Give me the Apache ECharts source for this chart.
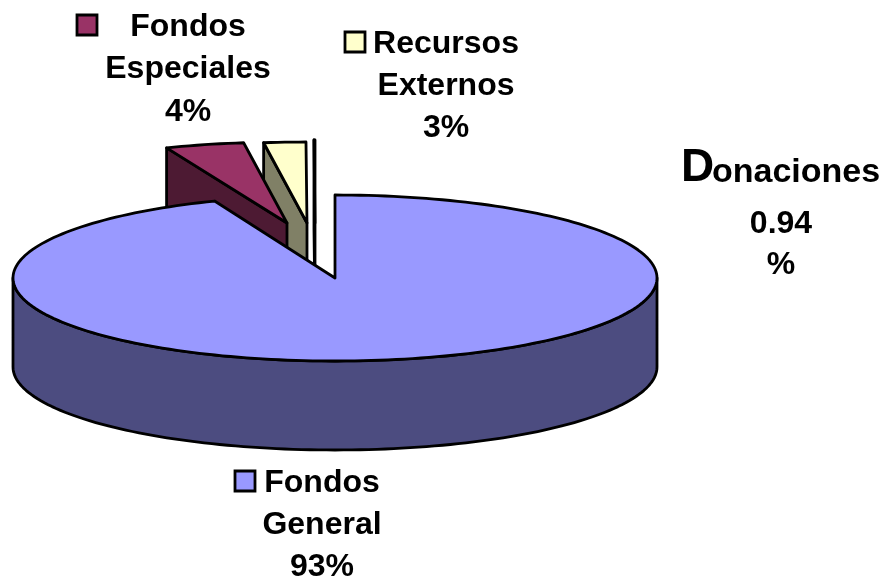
<!DOCTYPE html>
<html>
<head>
<meta charset="utf-8">
<style>
    html, body { margin: 0; padding: 0; background: #fff; }
    #chart { width: 886px; height: 577px; }
</style>
<script src="https://cdn.jsdelivr.net/npm/echarts@6/dist/echarts.min.js"></script>
</head>
<body>
<div id="chart"></div>
<script>
// slice shares as read from the drawn angles (printed labels do not sum to 100)
const names = ['Fondos General', 'Fondos Especiales', 'Recursos Externos', 'Donaciones'];
const shares = [93.9, 3.95, 2.1, 0.05];
const topColors = ['#9999ff', '#993366', '#ffffcc', '#ffffff'];
const sideColors = ['#4c4c80', '#4d1a33', '#808066', '#ffffff'];
const labelLines = [
    ['Fondos', 'General', '93%'],
    ['Fondos', 'Especiales', '4%'],
    ['Recursos', 'Externos', '3%'],
    ['0.94', '%']
];

const FONT = '"Liberation Sans", Arial, sans-serif';
const CX = 335, CY = 278, RX = 322, DEPTH = 89;
// per slice layout, same order as names
const sliceRY = [83, 81, 81, 83];
const explode = [[0, 0], [-48, -55], [-28, -55], [-20, -55]];
const labelPos = [
    [[322, 483], [322, 525], [322, 567]],
    [[188, 27], [188, 69], [188, 112]],
    [[446, 44], [446, 86], [446, 128]],
    [[781, 224], [781, 265]]
];
const keyPos = [[235, 471], [77, 15], [345, 32]];

let total = shares.reduce((a, b) => a + b, 0);
let acc = 0;
const rows = shares.map((v, i) => {
    let start = acc / total * 360;
    acc += v;
    return [start, acc / total * 360, i];
});
// back to front
const drawOrder = [3, 2, 1, 0];

const renderSlice = (params, api) => {
    const start = api.value(0), end = api.value(1), i = api.value(2);
    const ox = CX + explode[i][0], oy = CY + explode[i][1];
    const pt = (deg, drop) => {
        let t = deg * Math.PI / 180;
        return [ox + RX * Math.sin(t), oy - sliceRY[i] * Math.cos(t) + (drop || 0)];
    };
    const arc = (a, b, drop) => {
        let out = [];
        let n = Math.max(2, Math.ceil((b - a) / 1.5));
        for (let k = 0; k <= n; k++) out.push(pt(a + (b - a) * k / n, drop));
        return out;
    };
    const stroke = {stroke: '#000', lineWidth: 2.8, lineJoin: 'round'};
    const children = [];

    // cut face, only the one turned to the viewer
    if (start > 180) {
        let p = pt(start);
        children.push({type: 'polygon', shape: {points: [p, [ox, oy], [ox, oy + DEPTH], [p[0], p[1] + DEPTH]]},
            style: {fill: sideColors[i], ...stroke}});
    }
    // outer wall
    let a = Math.max(start, 90), b = Math.min(end, 270);
    if (b > a) {
        let pts = arc(a, b, 0).concat(arc(a, b, DEPTH).reverse());
        children.push({type: 'polygon', shape: {points: pts}, style: {fill: sideColors[i], ...stroke}});
    }
    // top face
    children.push({type: 'polygon', shape: {points: [[ox, oy]].concat(arc(start, end, 0))},
        style: {fill: topColors[i], ...stroke}});

    return {type: 'group', children};
};

const textStyle = (text, x, y, size, align) => ({
    type: 'text', x, y,
    style: {text, fill: '#000', font: 'bold ' + size + 'px ' + FONT, textAlign: align, textVerticalAlign: 'middle'}
});

const graphics = [];
labelLines.forEach((lines, i) => {
    lines.forEach((text, k) => {
        graphics.push(textStyle(text, labelPos[i][k][0], labelPos[i][k][1], 32, 'center'));
    });
    if (keyPos[i]) {
        graphics.push({type: 'rect', shape: {x: keyPos[i][0], y: keyPos[i][1], width: 20, height: 20},
            style: {fill: topColors[i], stroke: '#000', lineWidth: 2.8}});
    }
});
// Donaciones is set with an oversized first letter
graphics.push(textStyle('D', 681, 168, 46, 'left'));
graphics.push(textStyle('onaciones', 712, 173, 34, 'left'));

const chart = echarts.init(document.getElementById('chart'), null, {renderer: 'canvas'});
chart.setOption({
    animation: false,
    backgroundColor: '#fff',
    graphic: graphics,
    series: [{
        type: 'custom',
        coordinateSystem: 'none',
        renderItem: renderSlice,
        silent: true,
        data: drawOrder.map(i => rows[i])
    }]
});
</script>
</body>
</html>
